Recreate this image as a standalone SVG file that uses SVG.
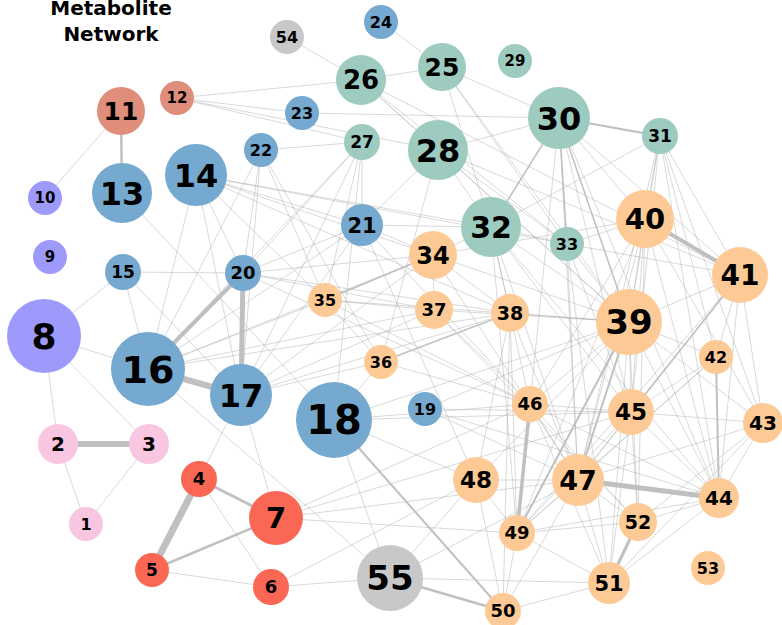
<svg xmlns="http://www.w3.org/2000/svg" width="782" height="625" viewBox="0 0 782 625">
<style>
.e line{stroke:#a8a8a8;stroke-width:0.8;stroke-opacity:0.55}
.w line{stroke:#bdbdbd;stroke-opacity:0.95}
text{font-family:"DejaVu Sans",Verdana,sans-serif;font-weight:bold;text-anchor:middle;fill:#000}
.pk{fill:#f8c6e0}.rd{fill:#fa6855}.pu{fill:#9e9afb}.sa{fill:#df8e7b}.bl{fill:#75a9cf}.te{fill:#9dcbbf}.or{fill:#fdca96}.gy{fill:#c8c8c8}
</style>
<rect width="782" height="625" fill="#fff"/>
<g id="title"><text x="111" y="15" font-size="20">Metabolite</text><text x="111" y="41" font-size="20">Network</text></g>
<g id="connectors">
<g class="e">
<line x1="86" y1="524" x2="58" y2="444"/><line x1="86" y1="524" x2="149" y2="444"/><line x1="58" y1="444" x2="44" y2="336"/><line x1="149" y1="444" x2="44" y2="336"/>
<line x1="44" y1="336" x2="148" y2="369"/><line x1="44" y1="336" x2="123" y2="272"/><line x1="123" y1="272" x2="148" y2="369"/><line x1="123" y1="272" x2="243" y2="273"/><line x1="123" y1="272" x2="241" y2="395"/>
<line x1="121" y1="111" x2="45" y2="198"/><line x1="177" y1="98" x2="361" y2="80"/><line x1="177" y1="98" x2="302" y2="113"/><line x1="177" y1="98" x2="362" y2="142"/><line x1="177" y1="98" x2="438" y2="150"/>
<line x1="122" y1="193" x2="334" y2="420"/><line x1="196" y1="175" x2="148" y2="369"/><line x1="196" y1="175" x2="241" y2="395"/><line x1="196" y1="175" x2="243" y2="273"/><line x1="196" y1="175" x2="325" y2="300"/>
<line x1="196" y1="175" x2="362" y2="225"/><line x1="196" y1="175" x2="491" y2="227"/><line x1="196" y1="175" x2="433" y2="255"/><line x1="196" y1="175" x2="510" y2="313"/><line x1="196" y1="175" x2="567" y2="244"/>
<line x1="148" y1="369" x2="433" y2="255"/><line x1="148" y1="369" x2="325" y2="300"/><line x1="148" y1="369" x2="434" y2="310"/><line x1="148" y1="369" x2="362" y2="225"/><line x1="148" y1="369" x2="362" y2="142"/>
<line x1="148" y1="369" x2="261" y2="150"/><line x1="148" y1="369" x2="390" y2="578"/><line x1="148" y1="369" x2="510" y2="313"/>
<line x1="241" y1="395" x2="199" y2="479"/><line x1="241" y1="395" x2="276" y2="518"/><line x1="241" y1="395" x2="381" y2="362"/><line x1="241" y1="395" x2="434" y2="310"/><line x1="241" y1="395" x2="433" y2="255"/>
<line x1="241" y1="395" x2="362" y2="225"/><line x1="241" y1="395" x2="261" y2="150"/><line x1="241" y1="395" x2="362" y2="142"/><line x1="241" y1="395" x2="510" y2="313"/>
<line x1="334" y1="420" x2="530" y2="404"/><line x1="334" y1="420" x2="631" y2="412"/><line x1="334" y1="420" x2="476" y2="480"/><line x1="334" y1="420" x2="629" y2="322"/><line x1="334" y1="420" x2="362" y2="142"/><line x1="334" y1="420" x2="390" y2="578"/>
<line x1="199" y1="479" x2="271" y2="587"/><line x1="152" y1="570" x2="271" y2="587"/><line x1="271" y1="587" x2="390" y2="578"/><line x1="271" y1="587" x2="476" y2="480"/>
<line x1="276" y1="518" x2="631" y2="412"/><line x1="276" y1="518" x2="530" y2="404"/><line x1="276" y1="518" x2="578" y2="480"/><line x1="276" y1="518" x2="517" y2="533"/>
<line x1="390" y1="578" x2="476" y2="480"/><line x1="390" y1="578" x2="578" y2="480"/><line x1="390" y1="578" x2="609" y2="583"/>
<line x1="243" y1="273" x2="261" y2="150"/><line x1="243" y1="273" x2="362" y2="142"/><line x1="243" y1="273" x2="362" y2="225"/><line x1="243" y1="273" x2="433" y2="255"/><line x1="243" y1="273" x2="510" y2="313"/><line x1="243" y1="273" x2="434" y2="310"/><line x1="243" y1="273" x2="530" y2="404"/>
<line x1="362" y1="225" x2="438" y2="150"/><line x1="362" y1="225" x2="491" y2="227"/><line x1="362" y1="225" x2="530" y2="404"/><line x1="362" y1="225" x2="476" y2="480"/>
<line x1="261" y1="150" x2="362" y2="142"/><line x1="261" y1="150" x2="325" y2="300"/><line x1="261" y1="150" x2="381" y2="362"/>
<line x1="302" y1="113" x2="559" y2="118"/><line x1="381" y1="22" x2="442" y2="67"/><line x1="442" y1="67" x2="361" y2="80"/><line x1="442" y1="67" x2="559" y2="118"/><line x1="442" y1="67" x2="491" y2="227"/><line x1="442" y1="67" x2="567" y2="244"/><line x1="442" y1="67" x2="629" y2="322"/>
<line x1="361" y1="80" x2="438" y2="150"/><line x1="361" y1="80" x2="287" y2="37"/><line x1="361" y1="80" x2="567" y2="244"/><line x1="361" y1="80" x2="629" y2="322"/><line x1="361" y1="80" x2="740" y2="275"/>
<line x1="362" y1="142" x2="325" y2="300"/><line x1="362" y1="142" x2="362" y2="225"/>
<line x1="438" y1="150" x2="559" y2="118"/><line x1="438" y1="150" x2="491" y2="227"/><line x1="438" y1="150" x2="567" y2="244"/><line x1="438" y1="150" x2="629" y2="322"/><line x1="438" y1="150" x2="381" y2="362"/><line x1="438" y1="150" x2="740" y2="275"/>
<line x1="559" y1="118" x2="645" y2="219"/><line x1="559" y1="118" x2="740" y2="275"/><line x1="559" y1="118" x2="631" y2="412"/><line x1="559" y1="118" x2="578" y2="480"/><line x1="559" y1="118" x2="719" y2="498"/><line x1="559" y1="118" x2="530" y2="404"/>
<line x1="660" y1="136" x2="645" y2="219"/><line x1="660" y1="136" x2="629" y2="322"/><line x1="660" y1="136" x2="740" y2="275"/><line x1="660" y1="136" x2="763" y2="423"/><line x1="660" y1="136" x2="719" y2="498"/><line x1="660" y1="136" x2="631" y2="412"/><line x1="660" y1="136" x2="716" y2="357"/><line x1="660" y1="136" x2="491" y2="227"/><line x1="660" y1="136" x2="578" y2="480"/>
<line x1="491" y1="227" x2="510" y2="313"/><line x1="491" y1="227" x2="629" y2="322"/><line x1="491" y1="227" x2="530" y2="404"/><line x1="491" y1="227" x2="578" y2="480"/><line x1="491" y1="227" x2="517" y2="533"/><line x1="491" y1="227" x2="631" y2="412"/><line x1="491" y1="227" x2="719" y2="498"/><line x1="491" y1="227" x2="567" y2="244"/><line x1="491" y1="227" x2="433" y2="255"/>
<line x1="567" y1="244" x2="629" y2="322"/><line x1="567" y1="244" x2="578" y2="480"/><line x1="567" y1="244" x2="631" y2="412"/><line x1="567" y1="244" x2="740" y2="275"/><line x1="567" y1="244" x2="645" y2="219"/><line x1="567" y1="244" x2="609" y2="583"/>
<line x1="433" y1="255" x2="362" y2="225"/><line x1="433" y1="255" x2="434" y2="310"/><line x1="433" y1="255" x2="629" y2="322"/><line x1="433" y1="255" x2="645" y2="219"/><line x1="433" y1="255" x2="510" y2="313"/><line x1="433" y1="255" x2="578" y2="480"/>
<line x1="325" y1="300" x2="381" y2="362"/><line x1="325" y1="300" x2="629" y2="322"/><line x1="325" y1="300" x2="530" y2="404"/><line x1="325" y1="300" x2="434" y2="310"/>
<line x1="381" y1="362" x2="334" y2="420"/><line x1="381" y1="362" x2="530" y2="404"/>
<line x1="434" y1="310" x2="629" y2="322"/><line x1="434" y1="310" x2="530" y2="404"/><line x1="434" y1="310" x2="638" y2="522"/>
<line x1="510" y1="313" x2="629" y2="322"/><line x1="510" y1="313" x2="517" y2="533"/><line x1="510" y1="313" x2="578" y2="480"/><line x1="510" y1="313" x2="503" y2="611"/><line x1="510" y1="313" x2="476" y2="480"/>
<line x1="425" y1="409" x2="629" y2="322"/><line x1="425" y1="409" x2="578" y2="480"/><line x1="425" y1="409" x2="631" y2="412"/><line x1="425" y1="409" x2="719" y2="498"/>
<line x1="629" y1="322" x2="530" y2="404"/><line x1="629" y1="322" x2="631" y2="412"/><line x1="629" y1="322" x2="719" y2="498"/><line x1="629" y1="322" x2="638" y2="522"/><line x1="629" y1="322" x2="716" y2="357"/><line x1="629" y1="322" x2="609" y2="583"/><line x1="629" y1="322" x2="476" y2="480"/><line x1="629" y1="322" x2="763" y2="423"/>
<line x1="645" y1="219" x2="629" y2="322"/><line x1="645" y1="219" x2="631" y2="412"/><line x1="645" y1="219" x2="578" y2="480"/><line x1="645" y1="219" x2="530" y2="404"/><line x1="645" y1="219" x2="517" y2="533"/><line x1="645" y1="219" x2="719" y2="498"/><line x1="645" y1="219" x2="638" y2="522"/><line x1="645" y1="219" x2="763" y2="423"/>
<line x1="740" y1="275" x2="716" y2="357"/><line x1="740" y1="275" x2="763" y2="423"/><line x1="740" y1="275" x2="719" y2="498"/><line x1="740" y1="275" x2="629" y2="322"/><line x1="740" y1="275" x2="578" y2="480"/><line x1="740" y1="275" x2="517" y2="533"/>
<line x1="716" y1="357" x2="517" y2="533"/><line x1="716" y1="357" x2="578" y2="480"/><line x1="716" y1="357" x2="631" y2="412"/>
<line x1="763" y1="423" x2="719" y2="498"/><line x1="763" y1="423" x2="631" y2="412"/><line x1="763" y1="423" x2="578" y2="480"/><line x1="763" y1="423" x2="638" y2="522"/><line x1="763" y1="423" x2="609" y2="583"/>
<line x1="719" y1="498" x2="638" y2="522"/><line x1="719" y1="498" x2="517" y2="533"/><line x1="719" y1="498" x2="530" y2="404"/><line x1="719" y1="498" x2="631" y2="412"/><line x1="719" y1="498" x2="609" y2="583"/>
<line x1="631" y1="412" x2="578" y2="480"/><line x1="631" y1="412" x2="517" y2="533"/><line x1="631" y1="412" x2="638" y2="522"/><line x1="631" y1="412" x2="609" y2="583"/><line x1="631" y1="412" x2="530" y2="404"/>
<line x1="530" y1="404" x2="578" y2="480"/><line x1="530" y1="404" x2="638" y2="522"/><line x1="530" y1="404" x2="609" y2="583"/>
<line x1="578" y1="480" x2="609" y2="583"/><line x1="578" y1="480" x2="638" y2="522"/><line x1="578" y1="480" x2="517" y2="533"/><line x1="578" y1="480" x2="503" y2="611"/><line x1="578" y1="480" x2="476" y2="480"/>
<line x1="476" y1="480" x2="517" y2="533"/><line x1="476" y1="480" x2="503" y2="611"/>
<line x1="517" y1="533" x2="638" y2="522"/><line x1="517" y1="533" x2="609" y2="583"/><line x1="517" y1="533" x2="503" y2="611"/><line x1="503" y1="611" x2="609" y2="583"/>
</g>
<g class="w">
<line x1="58" y1="444" x2="149" y2="444" stroke-width="6"/>
<line x1="199" y1="479" x2="152" y2="570" stroke-width="7"/>
<line x1="148" y1="369" x2="241" y2="395" stroke-width="6"/>
<line x1="148" y1="369" x2="243" y2="273" stroke-width="4"/>
<line x1="241" y1="395" x2="243" y2="273" stroke-width="5"/>
<line x1="719" y1="498" x2="578" y2="480" stroke-width="5"/>
<line x1="645" y1="219" x2="740" y2="275" stroke-width="4"/>
<line x1="530" y1="404" x2="517" y2="533" stroke-width="3.5"/>
<line x1="609" y1="583" x2="638" y2="522" stroke-width="3"/>
<line x1="121" y1="111" x2="122" y2="193" stroke-width="2.5"/>
<line x1="199" y1="479" x2="276" y2="518" stroke-width="3"/>
<line x1="152" y1="570" x2="276" y2="518" stroke-width="2.5"/>
<line x1="334" y1="420" x2="503" y2="611" stroke-width="2"/>
<line x1="390" y1="578" x2="503" y2="611" stroke-width="2.5"/>
<line x1="559" y1="118" x2="660" y2="136" stroke-width="2"/>
<line x1="629" y1="322" x2="578" y2="480" stroke-width="2"/>
<line x1="716" y1="357" x2="719" y2="498" stroke-width="2"/>
<line x1="559" y1="118" x2="567" y2="244" stroke-width="1.5"/>
<line x1="559" y1="118" x2="629" y2="322" stroke-width="1.5"/>
<line x1="740" y1="275" x2="631" y2="412" stroke-width="1.5"/>
<line x1="433" y1="255" x2="325" y2="300" stroke-width="1.5"/>
<line x1="381" y1="362" x2="510" y2="313" stroke-width="1.5"/>
<line x1="629" y1="322" x2="517" y2="533" stroke-width="2"/>
<line x1="559" y1="118" x2="491" y2="227" stroke-width="1.5"/>
</g>
</g>
<g id="nodes">
<g id="n1"><circle class="pk" cx="86" cy="524" r="17"/><text x="86" y="524" dy="0.36em" font-size="16">1</text></g>
<g id="n2"><circle class="pk" cx="58" cy="444" r="20"/><text x="58" y="444" dy="0.36em" font-size="20">2</text></g>
<g id="n3"><circle class="pk" cx="149" cy="444" r="20"/><text x="149" y="444" dy="0.36em" font-size="20">3</text></g>
<g id="n4"><circle class="rd" cx="199" cy="479" r="18"/><text x="199" y="479" dy="0.36em" font-size="18">4</text></g>
<g id="n5"><circle class="rd" cx="152" cy="570" r="17"/><text x="152" y="570" dy="0.36em" font-size="17">5</text></g>
<g id="n6"><circle class="rd" cx="271" cy="587" r="18"/><text x="271" y="587" dy="0.36em" font-size="18">6</text></g>
<g id="n7"><circle class="rd" cx="276" cy="518" r="27"/><text x="276" y="518" dy="0.36em" font-size="29">7</text></g>
<g id="n8"><circle class="pu" cx="44" cy="336" r="37"/><text x="44" y="336" dy="0.36em" font-size="36">8</text></g>
<g id="n9"><circle class="pu" cx="50" cy="257" r="17"/><text x="50" y="257" dy="0.36em" font-size="15">9</text></g>
<g id="n10"><circle class="pu" cx="45" cy="198" r="17"/><text x="45" y="198" dy="0.36em" font-size="15">10</text></g>
<g id="n11"><circle class="sa" cx="121" cy="111" r="24"/><text x="121" y="111" dy="0.36em" font-size="25">11</text></g>
<g id="n12"><circle class="sa" cx="177" cy="98" r="17"/><text x="177" y="98" dy="0.36em" font-size="15">12</text></g>
<g id="n13"><circle class="bl" cx="122" cy="193" r="30"/><text x="122" y="193" dy="0.36em" font-size="32">13</text></g>
<g id="n14"><circle class="bl" cx="196" cy="175" r="31"/><text x="196" y="175" dy="0.36em" font-size="32">14</text></g>
<g id="n15"><circle class="bl" cx="123" cy="272" r="18"/><text x="123" y="272" dy="0.36em" font-size="17">15</text></g>
<g id="n16"><circle class="bl" cx="148" cy="369" r="37"/><text x="148" y="369" dy="0.36em" font-size="38">16</text></g>
<g id="n17"><circle class="bl" cx="241" cy="395" r="31"/><text x="241" y="395" dy="0.36em" font-size="32">17</text></g>
<g id="n18"><circle class="bl" cx="334" cy="420" r="38"/><text x="334" y="420" dy="0.36em" font-size="40">18</text></g>
<g id="n19"><circle class="bl" cx="425" cy="409" r="17"/><text x="425" y="409" dy="0.36em" font-size="16">19</text></g>
<g id="n20"><circle class="bl" cx="243" cy="273" r="18"/><text x="243" y="273" dy="0.36em" font-size="18">20</text></g>
<g id="n21"><circle class="bl" cx="362" cy="225" r="21"/><text x="362" y="225" dy="0.36em" font-size="21">21</text></g>
<g id="n22"><circle class="bl" cx="261" cy="150" r="17"/><text x="261" y="150" dy="0.36em" font-size="16">22</text></g>
<g id="n23"><circle class="bl" cx="302" cy="113" r="17"/><text x="302" y="113" dy="0.36em" font-size="16">23</text></g>
<g id="n24"><circle class="bl" cx="381" cy="22" r="17"/><text x="381" y="22" dy="0.36em" font-size="16">24</text></g>
<g id="n25"><circle class="te" cx="442" cy="67" r="24"/><text x="442" y="67" dy="0.36em" font-size="25">25</text></g>
<g id="n26"><circle class="te" cx="361" cy="80" r="25"/><text x="361" y="80" dy="0.36em" font-size="26">26</text></g>
<g id="n27"><circle class="te" cx="362" cy="142" r="18"/><text x="362" y="142" dy="0.36em" font-size="17">27</text></g>
<g id="n28"><circle class="te" cx="438" cy="150" r="30"/><text x="438" y="150" dy="0.36em" font-size="32">28</text></g>
<g id="n29"><circle class="te" cx="515" cy="61" r="17"/><text x="515" y="61" dy="0.36em" font-size="15">29</text></g>
<g id="n30"><circle class="te" cx="559" cy="118" r="31"/><text x="559" y="118" dy="0.36em" font-size="32">30</text></g>
<g id="n31"><circle class="te" cx="660" cy="136" r="18"/><text x="660" y="136" dy="0.36em" font-size="17">31</text></g>
<g id="n32"><circle class="te" cx="491" cy="227" r="30"/><text x="491" y="227" dy="0.36em" font-size="30">32</text></g>
<g id="n33"><circle class="te" cx="567" cy="244" r="17"/><text x="567" y="244" dy="0.36em" font-size="16">33</text></g>
<g id="n34"><circle class="or" cx="433" cy="255" r="24"/><text x="433" y="255" dy="0.36em" font-size="24">34</text></g>
<g id="n35"><circle class="or" cx="325" cy="300" r="17"/><text x="325" y="300" dy="0.36em" font-size="16">35</text></g>
<g id="n36"><circle class="or" cx="381" cy="362" r="17"/><text x="381" y="362" dy="0.36em" font-size="16">36</text></g>
<g id="n37"><circle class="or" cx="434" cy="310" r="19"/><text x="434" y="310" dy="0.36em" font-size="18">37</text></g>
<g id="n38"><circle class="or" cx="510" cy="313" r="19"/><text x="510" y="313" dy="0.36em" font-size="19">38</text></g>
<g id="n39"><circle class="or" cx="629" cy="322" r="33"/><text x="629" y="322" dy="0.36em" font-size="34">39</text></g>
<g id="n40"><circle class="or" cx="645" cy="219" r="29"/><text x="645" y="219" dy="0.36em" font-size="29">40</text></g>
<g id="n41"><circle class="or" cx="740" cy="275" r="28"/><text x="740" y="275" dy="0.36em" font-size="28">41</text></g>
<g id="n42"><circle class="or" cx="716" cy="357" r="17"/><text x="716" y="357" dy="0.36em" font-size="16">42</text></g>
<g id="n43"><circle class="or" cx="763" cy="423" r="20"/><text x="763" y="423" dy="0.36em" font-size="20">43</text></g>
<g id="n44"><circle class="or" cx="719" cy="498" r="20"/><text x="719" y="498" dy="0.36em" font-size="20">44</text></g>
<g id="n45"><circle class="or" cx="631" cy="412" r="23"/><text x="631" y="412" dy="0.36em" font-size="23">45</text></g>
<g id="n46"><circle class="or" cx="530" cy="404" r="18"/><text x="530" y="404" dy="0.36em" font-size="18">46</text></g>
<g id="n47"><circle class="or" cx="578" cy="480" r="26"/><text x="578" y="480" dy="0.36em" font-size="27">47</text></g>
<g id="n48"><circle class="or" cx="476" cy="480" r="23"/><text x="476" y="480" dy="0.36em" font-size="23">48</text></g>
<g id="n49"><circle class="or" cx="517" cy="533" r="18"/><text x="517" y="533" dy="0.36em" font-size="18">49</text></g>
<g id="n50"><circle class="or" cx="503" cy="611" r="18"/><text x="503" y="611" dy="0.36em" font-size="18">50</text></g>
<g id="n51"><circle class="or" cx="609" cy="583" r="21"/><text x="609" y="583" dy="0.36em" font-size="21">51</text></g>
<g id="n52"><circle class="or" cx="638" cy="522" r="19"/><text x="638" y="522" dy="0.36em" font-size="19">52</text></g>
<g id="n53"><circle class="or" cx="708" cy="568" r="17"/><text x="708" y="568" dy="0.36em" font-size="16">53</text></g>
<g id="n54"><circle class="gy" cx="287" cy="37" r="17"/><text x="287" y="37" dy="0.36em" font-size="16">54</text></g>
<g id="n55"><circle class="gy" cx="390" cy="578" r="33"/><text x="390" y="578" dy="0.36em" font-size="34">55</text></g>
</g>
</svg>
